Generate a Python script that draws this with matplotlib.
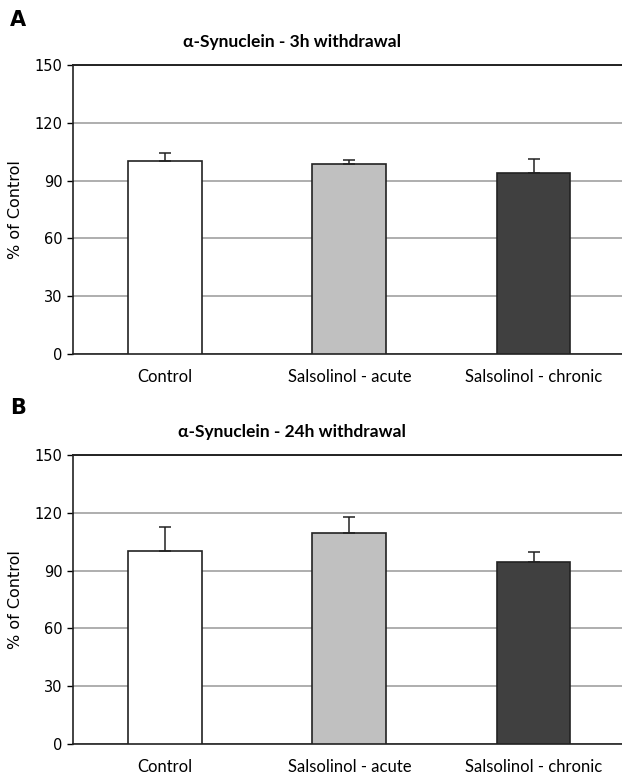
import matplotlib.pyplot as plt

groups = ['Control', 'Salsolinol - acute', 'Salsolinol - chronic']
colors = ['#ffffff', '#c0c0c0', '#404040']

vals_3h = [100, 98.5, 94.1]
err_3h = [4.5, 2.0, 6.9]
vals_24h = [100, 109.7, 94.5]
err_24h = [12.5, 8.0, 5.2]

titles = ['α-Synuclein - 3h withdrawal', 'α-Synuclein - 24h withdrawal']
panels = ['A', 'B']
yticks = [0, 30, 60, 90, 120, 150]

fig = plt.figure(figsize=(6.22, 7.74), dpi=100)
W, H = 622, 774
boxes = [(73, 65, 622, 354), (73, 455, 622, 744)]
title_y = [42, 432]
label_y = [20, 408]

for i, (vals, errs) in enumerate([(vals_3h, err_3h), (vals_24h, err_24h)]):
    l, t, r, b = boxes[i]
    ax = fig.add_axes([l / W, 1 - b / H, (r - l) / W, (b - t) / H])
    x = range(len(groups))
    ax.bar(x, vals, width=0.4, color=colors, edgecolor='#222222', linewidth=1.2, zorder=3)
    ax.errorbar(x, vals, yerr=[[0] * 3, errs], fmt='none', ecolor='#222222',
                elinewidth=1.1, capsize=4, capthick=1.1, zorder=4)
    ax.set_ylim(0, 150)
    ax.set_xlim(-0.5, 2.48)
    ax.set_yticks(yticks)
    ax.yaxis.grid(True, color='#a8a8a8', linewidth=1.3, zorder=0)
    ax.set_axisbelow(True)
    ax.set_xticks(list(x))
    ax.set_xticklabels(groups, fontsize=12, family='Lato')
    ax.tick_params(axis='x', length=0, pad=11)
    ax.tick_params(axis='y', length=4, width=1, labelsize=10.5, direction='out')
    ax.spines['right'].set_visible(False)
    ax.spines['top'].set_color('#222222')
    ax.spines['top'].set_linewidth(1.4)
    for s in ['left', 'bottom']:
        ax.spines[s].set_color('#222222')
        ax.spines[s].set_linewidth(1.2)
    ax.set_ylabel('% of Control', fontsize=11.5, labelpad=8)
    fig.text(292 / W, 1 - title_y[i] / H, titles[i], ha='center', va='center',
             fontsize=12.5, fontweight='bold', family='Lato')
    fig.text(10 / W, 1 - label_y[i] / H, panels[i], ha='left', va='center',
             fontsize=15, fontweight='bold')

plt.savefig('out.png', dpi=100)
